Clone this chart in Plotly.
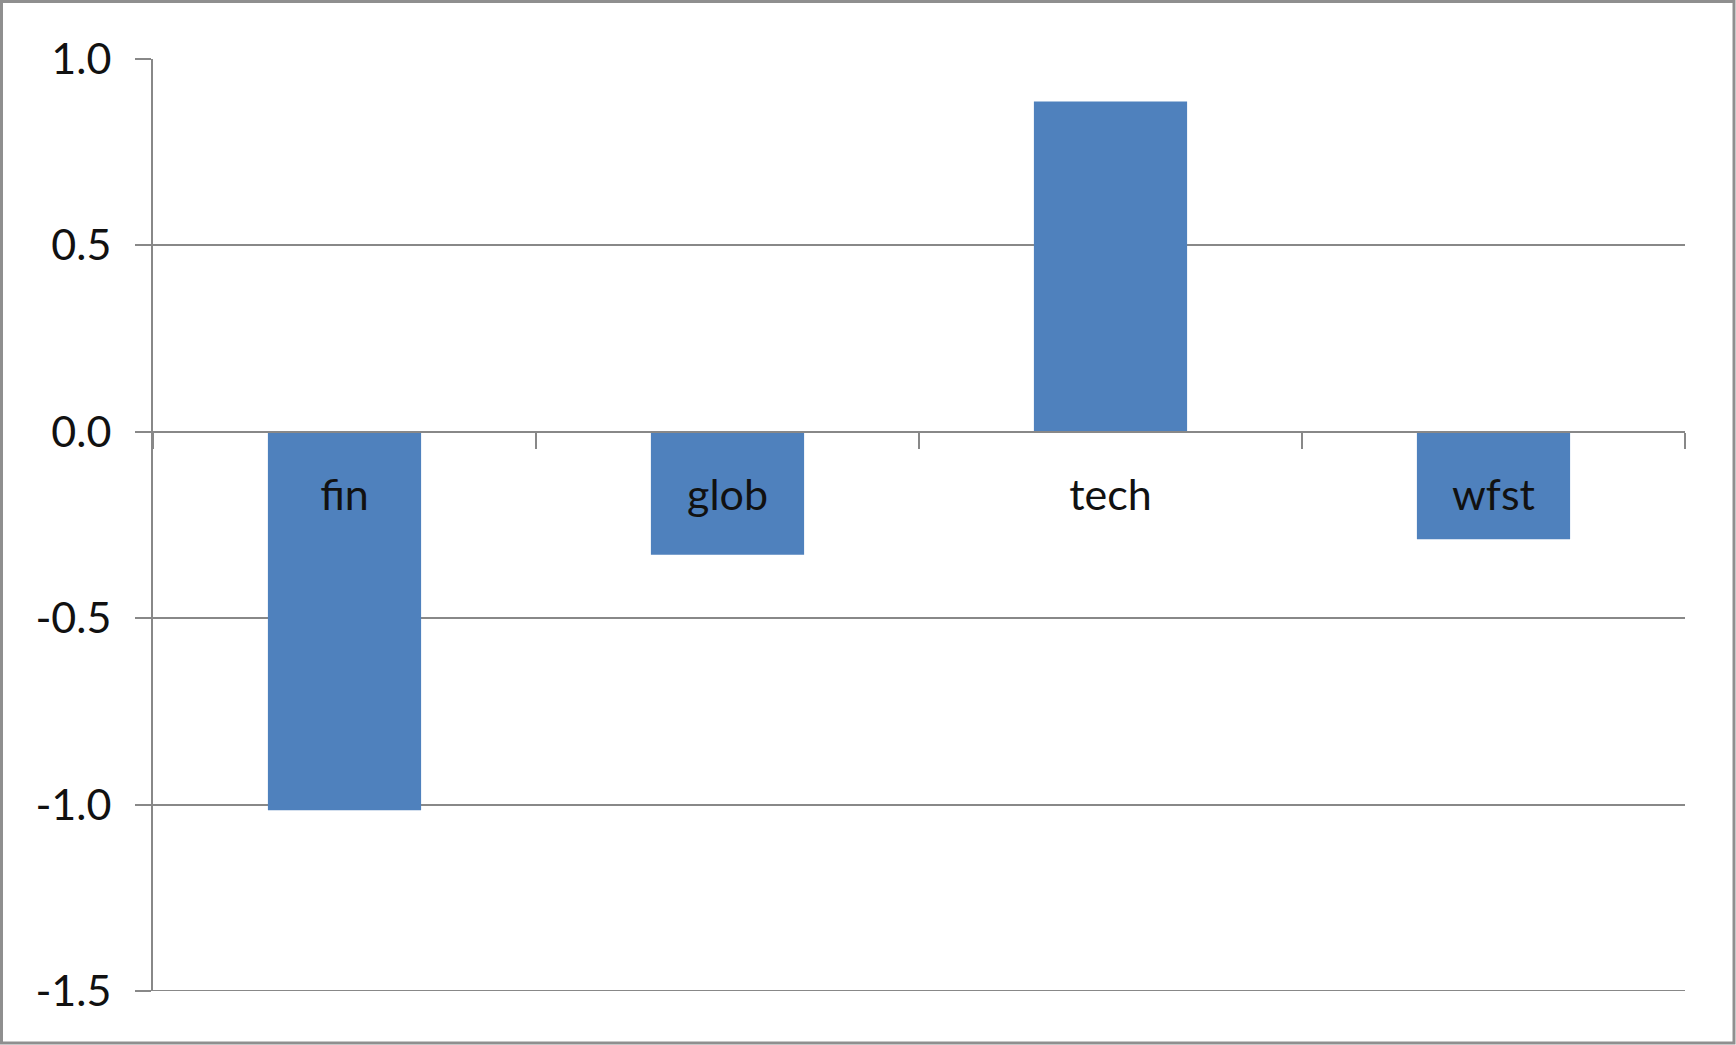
import plotly.graph_objects as go

# Category scores
categories = ["fin", "glob", "tech", "wfst"]
values = [-1.015, -0.330, 0.886, -0.288]

# Y axis ticks
y_ticks = [1.0, 0.5, 0.0, -0.5, -1.0, -1.5]
y_tick_text = ["1.0", "0.5", "0.0", "-0.5", "-1.0", "-1.5"]

W, H = 1736, 1045
ML, MR, MT, MB = 153, 51, 59, 54
PW, PH = W - ML - MR, H - MT - MB

BAR = "#4F81BD"
GRID = "#888888"
LW = 2
FONT = "Lato"


def px_to_paper_x(px):
    return (px - ML) / PW


def px_to_paper_y(py):
    # py measured from the top of the page
    return (H - MB - py) / PH


fig = go.Figure(
    go.Bar(
        x=categories,
        y=values,
        marker=dict(color=BAR, line=dict(width=0)),
        hoverinfo="x+y",
    )
)

y_min, y_max = -1.5, 1.0
zero_frac = (0 - y_min) / (y_max - y_min)

fig.update_layout(
    width=W,
    height=H,
    margin=dict(l=ML, r=MR, t=MT, b=MB, pad=0),
    paper_bgcolor="white",
    plot_bgcolor="white",
    bargap=0.6,
    showlegend=False,
    font=dict(family=FONT, size=43, color="#111111"),
    xaxis=dict(
        anchor="free",
        position=zero_frac,
        showline=True,
        linecolor=GRID,
        linewidth=LW,
        showgrid=False,
        ticks="outside",
        tickson="boundaries",
        ticklen=16,
        tickwidth=LW,
        tickcolor=GRID,
        ticklabelstandoff=26,
        tickfont=dict(family=FONT, size=43, color="#111111"),
        layer="above traces",
    ),
    yaxis=dict(
        range=[y_min, y_max],
        tickvals=y_ticks,
        ticktext=y_tick_text,
        showline=True,
        linecolor=GRID,
        linewidth=LW,
        showgrid=True,
        gridcolor=GRID,
        gridwidth=LW,
        zeroline=False,
        ticks="outside",
        ticklen=16,
        tickwidth=LW,
        tickcolor=GRID,
        ticklabelstandoff=15,
        tickfont=dict(family=FONT, size=43, color="#111111"),
    ),
    shapes=[
        # chart frame around the whole page
        dict(
            type="rect",
            xref="paper",
            yref="paper",
            x0=px_to_paper_x(1.5),
            x1=px_to_paper_x(W - 2),
            y0=px_to_paper_y(H - 2),
            y1=px_to_paper_y(1.5),
            line=dict(color="#8f8f8f", width=3),
            fillcolor="rgba(0,0,0,0)",
            layer="above",
        ),
        # bottom grid line at the axis minimum
        dict(
            type="line",
            xref="paper",
            yref="y",
            x0=px_to_paper_x(ML - 16),
            x1=1,
            y0=y_min,
            y1=y_min,
            line=dict(color=GRID, width=LW),
            layer="below",
        ),
    ],
)

fig.write_html("out.html")
